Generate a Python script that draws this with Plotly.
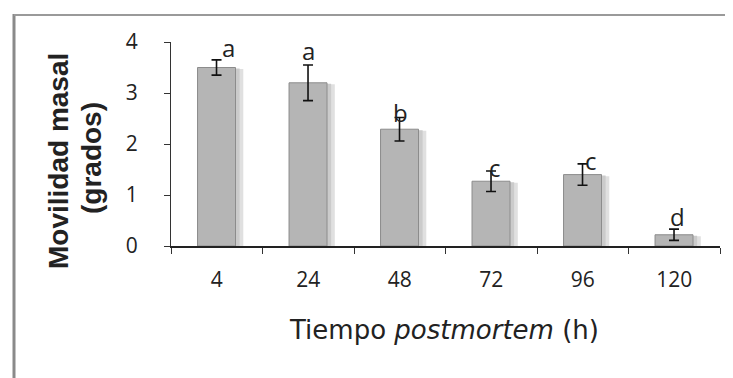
import plotly.graph_objects as go

categories = ["4", "24", "48", "72", "96", "120"]
values = [3.5, 3.2, 2.29, 1.27, 1.4, 0.22]
errors = [0.15, 0.35, 0.23, 0.2, 0.21, 0.11]
letters = ["a", "a", "b", "c", "c", "d"]

# pixel nudges for the significance letters (style only)
letter_dx = [12, 0, 1, 4, 8, 3]
letter_dy = [12, 14, 5, 4, 3, 13]

fig = go.Figure()
# soft shadow behind bars
fig.add_trace(go.Bar(x=categories, y=values, width=0.42, offset=-0.13,
                     base=[-0.03] * len(values),
                     marker=dict(color="#e0e0e0", line=dict(width=0)),
                     hoverinfo="skip", showlegend=False))
fig.add_trace(go.Bar(x=categories, y=values, width=0.42, offset=-0.17,
                     base=[-0.02] * len(values),
                     marker=dict(color="#cbcbcb", line=dict(width=0)),
                     hoverinfo="skip", showlegend=False))
fig.add_trace(go.Bar(x=categories, y=values, width=0.415, offset=-0.21,
                     marker=dict(color="#b5b5b5", line=dict(color="#8c8c8c", width=1)),
                     error_y=dict(type="data", array=errors, color="#111",
                                  thickness=1.6, width=5),
                     showlegend=False))

tfont = dict(family="Open Sans, sans-serif", size=21, color="#222")
for i, (v, e, l, dx, dy) in enumerate(zip(values, errors, letters, letter_dx, letter_dy)):
    fig.add_annotation(x=i, y=v + e, text=l, showarrow=False, xshift=dx, yshift=dy,
                       yanchor="middle", xanchor="center",
                       font=dict(family="Open Sans, sans-serif", size=24, color="#222"))

W = 549.0
H = 204.0
def px(x):
    return (x - 163) / W
def py(y):
    return (238 - y) / H

ytitle_font = dict(family="Liberation Sans, Arial, sans-serif", size=28, color="#222")
fig.add_annotation(xref="paper", yref="paper", x=px(50), y=py(153),
                   xanchor="center", yanchor="middle",
                   text="<b>Movilidad masal</b>", textangle=-90,
                   showarrow=False, font=ytitle_font)
fig.add_annotation(xref="paper", yref="paper", x=px(83), y=py(150),
                   xanchor="center", yanchor="middle",
                   text="<b>(grados)</b>", textangle=-90,
                   showarrow=False, font=ytitle_font)
fig.add_annotation(xref="paper", yref="paper", x=px(436), y=py(322),
                   xanchor="center", yanchor="middle",
                   text="Tiempo <i>postmortem</i> (h)", showarrow=False,
                   font=dict(family="DejaVu Sans, sans-serif", size=26, color="#222"))

# outer frame (scanned page edges)
fig.add_shape(type="line", xref="paper", yref="paper",
              x0=px(6), x1=px(6), y0=py(6), y1=py(378),
              line=dict(color="#8a8a8a", width=3))
fig.add_shape(type="line", xref="paper", yref="paper",
              x0=px(6), x1=px(733), y0=py(7), y1=py(7),
              line=dict(color="#9a9a9a", width=2))

fig.update_layout(
    width=733, height=378, barmode="overlay",
    margin=dict(l=163, r=21, t=34, b=140),
    plot_bgcolor="white", paper_bgcolor="white",
    xaxis=dict(type="category", showline=True, linecolor="#222", linewidth=2,
               ticks="outside", tickson="boundaries", ticklen=6, tickcolor="#333",
               tickfont=tfont, showgrid=False, zeroline=False, range=[-0.5, 5.5],
               ticklabelstandoff=14),
    yaxis=dict(range=[0, 4], tickvals=[0, 1, 2, 3, 4], showline=True, linecolor="#333",
               linewidth=1, ticks="outside", ticklen=6, tickcolor="#333",
               tickfont=tfont, showgrid=False, zeroline=False, ticklabelstandoff=22),
)
fig.write_html("out.html")
